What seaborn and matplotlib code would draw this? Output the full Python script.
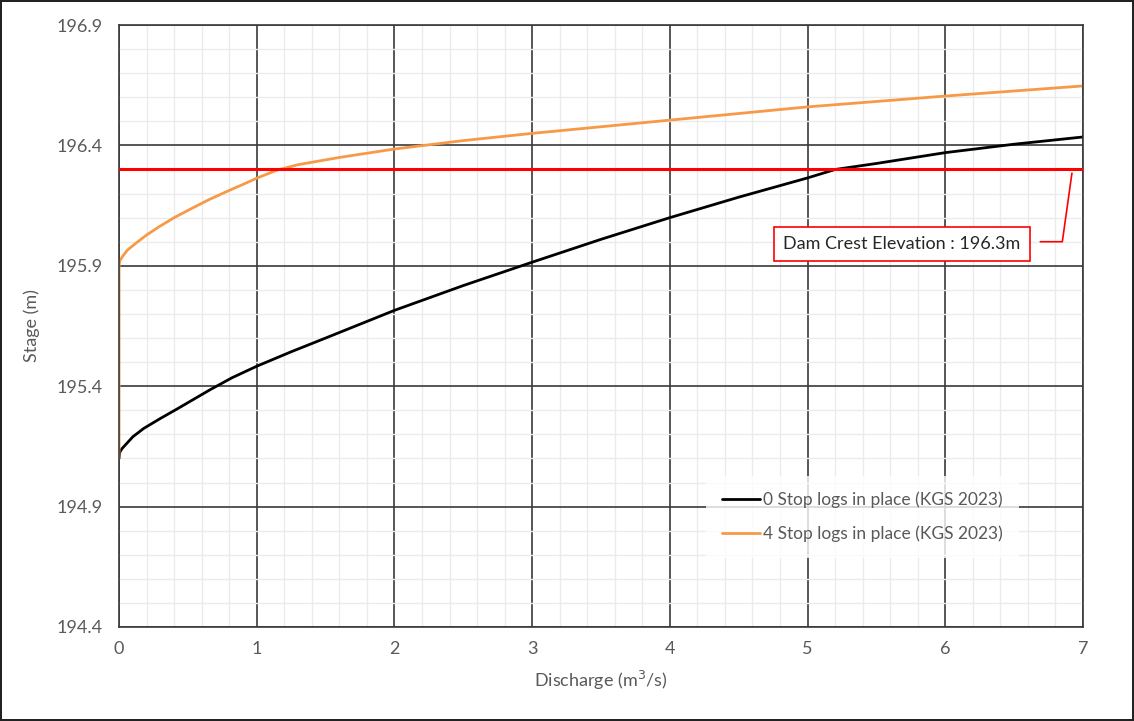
import matplotlib
matplotlib.use("Agg")
import matplotlib.pyplot as plt
import seaborn as sns
import pandas as pd
from matplotlib.ticker import MultipleLocator, FixedLocator

# rating curves
q_0logs = [0, 0.005, 0.02, 0.06, 0.1, 0.18, 0.3, 0.42, 0.54, 0.66, 0.82, 1.0,
           1.25, 1.5, 2.0, 2.5, 3.0, 3.5, 4.0, 4.5, 5.0, 5.2, 5.5, 6.0, 6.5, 7.0]
h_0logs = [195.10, 195.125, 195.14, 195.165, 195.19, 195.225, 195.266, 195.305,
           195.345, 195.385, 195.435, 195.483, 195.543, 195.60, 195.715, 195.818,
           195.915, 196.01, 196.10, 196.185, 196.265, 196.30, 196.325, 196.37,
           196.405, 196.435]

q_4logs = [0, 0, 0.005, 0.024, 0.06, 0.12, 0.2, 0.29, 0.4, 0.53, 0.65, 0.78,
           0.9, 1.0, 1.15, 1.3, 1.6, 2.0, 2.5, 3.0, 4.0, 5.0, 6.0, 7.0]
h_4logs = [195.10, 195.90, 195.92, 195.938, 195.965, 195.993, 196.028, 196.062,
           196.10, 196.139, 196.174, 196.208, 196.238, 196.264, 196.298, 196.32,
           196.35, 196.385, 196.42, 196.45, 196.505, 196.56, 196.605, 196.647]

series_names = ["0 Stop logs in place (KGS 2023)", "4 Stop logs in place (KGS 2023)"]
crest = 196.3
x_ticks = [0, 1, 2, 3, 4, 5, 6, 7]
y_ticks = [194.4, 194.9, 195.4, 195.9, 196.4, 196.9]

df = pd.concat([
    pd.DataFrame({"Discharge": q_0logs, "Stage": h_0logs, "Series": series_names[0]}),
    pd.DataFrame({"Discharge": q_4logs, "Stage": h_4logs, "Series": series_names[1]}),
], ignore_index=True)

sns.set_theme(style="white")
plt.rcParams["font.family"] = ["Lato", "DejaVu Sans"]
grey = "#595959"

fig = plt.figure(figsize=(11.34, 7.21), dpi=100)
fig.patch.set_edgecolor("#222222")
fig.patch.set_linewidth(1.5)
ax = fig.add_axes([0.105, 0.1304, 0.850, 0.8349])

sns.lineplot(data=df, x="Discharge", y="Stage", hue="Series", sort=False,
             estimator=None, palette=["#000000", "#F79A48"], linewidth=2.0, ax=ax)

# dam crest line
ax.axhline(crest, color="#FF0000", linewidth=2.2, zorder=3)

ax.set_xlim(0, 7)
ax.set_ylim(194.4, 196.9)
ax.xaxis.set_major_locator(FixedLocator(x_ticks))
ax.xaxis.set_minor_locator(MultipleLocator(0.2))
ax.yaxis.set_major_locator(FixedLocator(y_ticks))
ax.yaxis.set_minor_locator(MultipleLocator(0.1))
ax.grid(which="minor", color="#EBEBEB", linewidth=1.0)
ax.grid(which="major", color="#3A3A3A", linewidth=1.2)
ax.set_axisbelow(True)
for s in ax.spines.values():
    s.set_color("#3A3A3A")
    s.set_linewidth(1.2)

ax.tick_params(which="both", length=0, labelsize=13, labelcolor=grey)
ax.tick_params(axis="y", pad=12)
ax.tick_params(axis="x", pad=10)
ax.set_yticklabels([f"{v:.1f}" for v in y_ticks])
ax.set_xlabel("Discharge (m$^3$/s)", fontsize=13, color=grey, labelpad=9)
ax.set_ylabel("Stage (m)", fontsize=13, color=grey, labelpad=12)

# callout
ax.text(5.686, 195.99, "Dam Crest Elevation : 196.3m", fontsize=13, color="#262626",
        ha="center", va="center",
        bbox=dict(boxstyle="square,pad=0.5", facecolor="white", edgecolor="#FF0000", linewidth=1.2))
ax.plot([6.69, 6.85, 6.92], [196.0, 196.0, 196.285], color="#FF0000", linewidth=1.2)

leg = ax.legend(loc="upper left", bbox_to_anchor=(0.60, 0.265), frameon=True,
                facecolor="white", edgecolor="none", fontsize=12.5, handlelength=2.2,
                handletextpad=0.2, labelspacing=1.0, borderpad=0.9, fancybox=False)
for t in leg.get_texts():
    t.set_color(grey)

fig.savefig("out.png", dpi=100)
